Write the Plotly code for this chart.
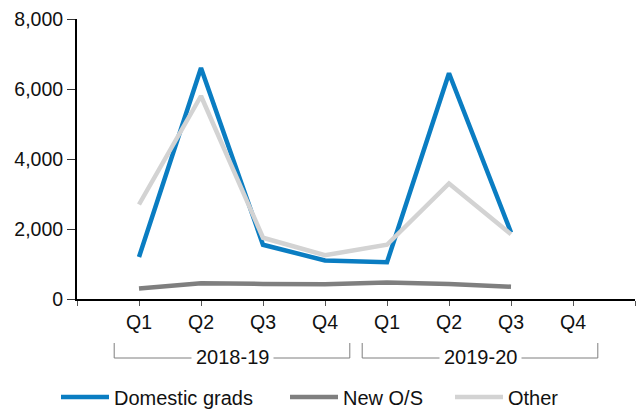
import plotly.graph_objects as go

# ---- data ----
years = ["2018-19", "2019-20"]
quarters = ["Q1", "Q2", "Q3", "Q4"]
domestic_grads = [1200, 6600, 1550, 1100, 1050, 6450, 1900]
new_os = [300, 450, 430, 420, 470, 430, 350]
other = [2700, 5800, 1750, 1250, 1550, 3300, 1850]
y_ticks = [0, 2000, 4000, 6000, 8000]

series_names = ["Domestic grads", "New O/S", "Other"]
series_values = [domestic_grads, new_os, other]
series_colors = ["#0A7DC2", "#7F7F7F", "#D3D3D3"]
legend_ids = ["legend", "legend2", "legend3"]
legend_x_px = [56, 285, 450]

n_slots = len(years) * len(quarters)
x_all = list(range(n_slots))

FONT = "Liberation Sans, Arial, sans-serif"

fig = go.Figure()
for name, vals, col, lid in zip(series_names, series_values, series_colors, legend_ids):
    fig.add_trace(go.Scatter(
        x=x_all[:len(vals)], y=vals, name=name, mode="lines",
        line=dict(color=col, width=4.5), legend=lid,
    ))

tickvals = list(range(-1, n_slots + 1))
ticktext = [""] + quarters * len(years) + [""]

# group brackets under the axis
H = 280.0  # plot height px
y_top = -(343 - 299) / H
y_bot = -(358 - 299) / H
y_txt = -(357 - 299) / H
shapes = []
annotations = []
for g, yr in enumerate(years):
    xs = g * len(quarters) - 0.4
    xe = g * len(quarters) + len(quarters) - 1 + 0.4
    shapes.append(dict(
        type="path", xref="x", yref="paper",
        path=f"M {xs},{y_top} L {xs},{y_bot} L {xe},{y_bot} L {xe},{y_top}",
        line=dict(color="#7F7F7F", width=1),
    ))
    annotations.append(dict(
        x=g * len(quarters) + (len(quarters) - 1) / 2, y=y_txt,
        xref="x", yref="paper", text=yr, showarrow=False,
        font=dict(family=FONT, size=20, color="#111111"),
        bgcolor="white", borderpad=4, yanchor="middle", xanchor="center",
    ))

legend_layout = {}
for lid, lx in zip(legend_ids, legend_x_px):
    legend_layout[lid] = dict(
        orientation="h", xref="container", yref="container",
        x=lx / 640, y=(411 - 397) / 411, xanchor="left", yanchor="middle",
        font=dict(family=FONT, size=20, color="#111111"),
        itemwidth=48, bgcolor="rgba(0,0,0,0)",
    )

fig.update_layout(
    width=640, height=411,
    margin=dict(l=77, r=5, t=19, b=112, autoexpand=False),
    paper_bgcolor="white", plot_bgcolor="white",
    font=dict(family=FONT, size=19.5, color="#111111"),
    showlegend=True,
    shapes=shapes,
    annotations=annotations,
    xaxis=dict(
        range=[-1, n_slots], tickmode="array", tickvals=tickvals, ticktext=ticktext,
        showgrid=False, zeroline=False, showline=True, linecolor="black", linewidth=2,
        ticks="outside", ticklen=5, tickcolor="#555555", tickwidth=1,
        tickfont=dict(family=FONT, size=19.5, color="#111111"),
    ),
    yaxis=dict(
        range=[0, 8000], tickmode="array", tickvals=y_ticks, tickformat=",",
        showgrid=False, zeroline=False, showline=True, linecolor="black", linewidth=2,
        ticks="outside", ticklen=8, tickcolor="#333333", tickwidth=1,
        tickfont=dict(family=FONT, size=19.5, color="#111111"),
    ),
    **legend_layout,
)

fig.write_html(
    "out.html",
    config={"displayModeBar": False},
    post_script="document.body.style.margin='0px';document.body.style.overflow='hidden';",
)
